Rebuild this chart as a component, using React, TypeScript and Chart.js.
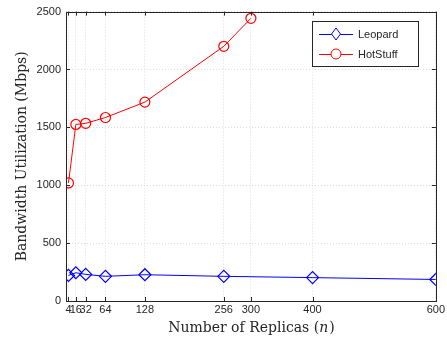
import React, { useEffect, useRef } from "react";
import { Chart, registerables } from "chart.js";

Chart.register(...registerables);

const xTicks = [4, 16, 32, 64, 128, 256, 300, 400, 600];
const leopardX = [4, 16, 32, 64, 128, 256, 400, 600];
const leopardY = [221, 244, 230, 213, 227, 213, 202, 186];
const hotstuffX = [4, 16, 32, 64, 128, 256, 300];
const hotstuffY = [1020, 1525, 1535, 1585, 1718, 2200, 2442];
const yTicks = [0, 500, 1000, 1500, 2000, 2500];

const serif = "'DejaVu Serif', 'Liberation Serif', serif";

const boxPlugin = {
  id: "boxPlugin",
  afterDraw(chart: any) {
    const { ctx, chartArea: a, scales } = chart;
    ctx.save();
    ctx.strokeStyle = "#262626";
    ctx.lineWidth = 1;
    ctx.strokeRect(Math.round(a.left) + 0.5, Math.round(a.top) + 0.5, Math.round(a.right - a.left), Math.round(a.bottom - a.top));
    ctx.beginPath();
    xTicks.forEach((v) => {
      const x = Math.round(scales.x.getPixelForValue(v)) + 0.5;
      ctx.moveTo(x, a.bottom);
      ctx.lineTo(x, a.bottom - 4);
      ctx.moveTo(x, a.top);
      ctx.lineTo(x, a.top + 4);
    });
    yTicks.forEach((v) => {
      const y = Math.round(scales.y.getPixelForValue(v)) + 0.5;
      ctx.moveTo(a.left, y);
      ctx.lineTo(a.left + 4, y);
      ctx.moveTo(a.right, y);
      ctx.lineTo(a.right - 4, y);
    });
    ctx.stroke();

    const cx = (a.left + a.right) / 2;
    const ty = 328;
    const f1 = "14px " + serif;
    const f2 = "italic 14px " + serif;
    const p1 = "Number of Replicas (";
    const p2 = "n";
    const p3 = ")";
    ctx.font = f1;
    const w1 = ctx.measureText(p1).width;
    const w3 = ctx.measureText(p3).width;
    ctx.font = f2;
    const w2 = ctx.measureText(p2).width;
    const sx = cx - (w1 + w2 + w3) / 2;
    ctx.fillStyle = "#262626";
    ctx.textBaseline = "middle";
    ctx.textAlign = "left";
    ctx.font = f1;
    ctx.fillText(p1, sx, ty);
    ctx.font = f2;
    ctx.fillText(p2, sx + w1, ty);
    ctx.font = f1;
    ctx.fillText(p3, sx + w1 + w2 + 1, ty);

    const lx = 312, ly = 21, lw = 106, lh = 45;
    ctx.fillStyle = "#fff";
    ctx.fillRect(lx, ly, lw, lh);
    ctx.strokeStyle = "#262626";
    ctx.strokeRect(lx + 0.5, ly + 0.5, lw, lh);
    chart.data.datasets.forEach((ds: any, i: number) => {
      const yy = ly + 13 + i * 20;
      ctx.strokeStyle = ds.borderColor;
      ctx.lineWidth = 1;
      ctx.beginPath();
      ctx.moveTo(lx + 7, yy + 0.5);
      ctx.lineTo(lx + 41, yy + 0.5);
      ctx.stroke();
      const mx = lx + 24;
      ctx.beginPath();
      if (ds.pointStyle === "rectRot") {
        ctx.moveTo(mx, yy - 6);
        ctx.lineTo(mx + 4.5, yy);
        ctx.lineTo(mx, yy + 6);
        ctx.lineTo(mx - 4.5, yy);
        ctx.closePath();
      } else {
        ctx.arc(mx, yy, 5, 0, Math.PI * 2);
      }
      ctx.fillStyle = "#fff";
      ctx.fill();
      ctx.stroke();
      ctx.fillStyle = "#262626";
      ctx.font = "11px 'Liberation Sans', Arial, sans-serif";
      ctx.textAlign = "left";
      ctx.textBaseline = "middle";
      ctx.fillText(ds.label, lx + 46, yy + 1);
    });
    ctx.restore();
  },
};

export default function App() {
  const ref = useRef<HTMLCanvasElement>(null);
  useEffect(() => {
    const tickFont = { family: "'Liberation Sans', Arial, sans-serif", size: 11 };
    const chart = new Chart(ref.current!, {
      type: "line",
      data: {
        datasets: [
          {
            label: "Leopard",
            data: leopardX.map((x, i) => ({ x, y: leopardY[i] })),
            borderColor: "#0000ff",
            backgroundColor: "rgba(0,0,0,0)",
            borderWidth: 1,
            pointStyle: "rectRot",
            pointRadius: 6,
            pointBorderWidth: 1.2,
            pointBackgroundColor: "rgba(0,0,0,0)",
          },
          {
            label: "HotStuff",
            data: hotstuffX.map((x, i) => ({ x, y: hotstuffY[i] })),
            borderColor: "#ff0000",
            backgroundColor: "rgba(0,0,0,0)",
            borderWidth: 1,
            pointStyle: "circle",
            pointRadius: 5,
            pointBorderWidth: 1.2,
            pointBackgroundColor: "rgba(0,0,0,0)",
          },
        ],
      },
      options: {
        animation: false,
        responsive: false,
        layout: { padding: { top: 8, right: 10, left: 0, bottom: 0 } },
        plugins: { legend: { display: false }, tooltip: { enabled: false } },
        scales: {
          x: {
            type: "linear",
            min: 0,
            max: 600,
            afterBuildTicks: (s: any) => {
              s.ticks = xTicks.map((v) => ({ value: v }));
            },
            afterFit: (s: any) => {
              s.height = 40;
            },
            ticks: {
              autoSkip: false,
              maxRotation: 0,
              minRotation: 0,
              color: "#262626",
              font: tickFont,
              padding: 2,
              callback: (v: any) => String(v),
            },
            grid: { color: "#dcdcdc", lineWidth: 1, drawTicks: false, tickLength: 0 },
            border: { display: false, dash: [1, 2] },
          },
          y: {
            type: "linear",
            min: 0,
            max: 2500,
            afterBuildTicks: (s: any) => {
              s.ticks = yTicks.map((v) => ({ value: v }));
            },
            afterFit: (s: any) => {
              s.width = 66;
            },
            ticks: { color: "#262626", font: tickFont, padding: 5, callback: (v: any) => String(v) },
            grid: { color: "#dcdcdc", lineWidth: 1, drawTicks: false, tickLength: 0 },
            border: { display: false, dash: [1, 2] },
            title: {
              display: true,
              text: "Bandwidth Utilization (Mbps)",
              color: "#262626",
              font: { family: serif, size: 14 },
              padding: { top: 14, bottom: 0 },
            },
          },
        },
      },
      plugins: [boxPlugin],
    } as any);
    return () => chart.destroy();
  }, []);
  return (
    <div style={{ position: "fixed", left: 0, top: 0, width: 447, height: 341, background: "#fff" }}>
      <canvas ref={ref} width={447} height={341} style={{ width: 447, height: 341 }} />
    </div>
  );
}
